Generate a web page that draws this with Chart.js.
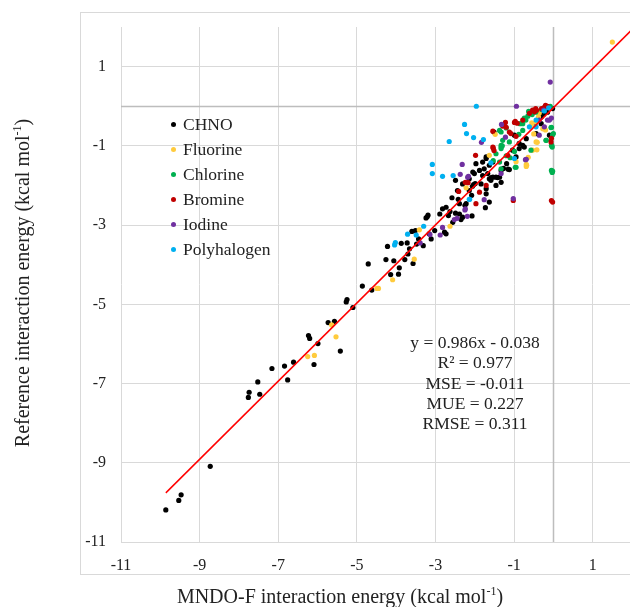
<!DOCTYPE html>
<html>
<head>
<meta charset="utf-8">
<script src="https://cdn.jsdelivr.net/npm/chart.js@4"></script>
<style>
  html, body { margin: 0; padding: 0; background: #fff; overflow: hidden; }
  #wrap { position: relative; width: 630px; height: 607px; overflow: hidden; font-family: 'Liberation Serif', 'Times New Roman', serif; color: #222; }
  #c { position: absolute; left: 0; top: 0; }
  .title { position: absolute; font-size: 20px; line-height: 24px; text-align: center; white-space: nowrap; }
  .title sup { font-size: 12px; line-height: 0; }
  #ytitle { left: -178px; top: 271px; width: 400px; height: 24px; transform: rotate(-90deg); }
  #xtitle { left: 90px; top: 584px; width: 500px; }
  #legend { position: absolute; left: 171px; top: 112px; font-size: 17.5px; }
  #legend div { height: 25px; line-height: 25px; white-space: nowrap; }
  #legend span.dot { display: inline-block; width: 5px; height: 5px; border-radius: 50%; margin-right: 7px; vertical-align: middle; position: relative; top: -1px; }
  #stats { position: absolute; left: 375px; top: 332px; width: 200px; text-align: center; font-size: 17.5px; line-height: 20.3px; white-space: nowrap; }
</style>
</head>
<body>
<div id="wrap">
  <canvas id="c" width="640" height="607"></canvas>
  <div class="title" id="ytitle">Reference interaction energy (kcal mol<sup>-1</sup>)</div>
  <div class="title" id="xtitle">MNDO-F interaction energy (kcal mol<sup>-1</sup>)</div>
  <div id="legend"></div>
  <div id="stats">y = 0.986x - 0.038<br>R² = 0.977<br>MSE = -0.011<br>MUE = 0.227<br>RMSE = 0.311</div>
</div>
<script>
const seriesNames = ['CHNO', 'Fluorine', 'Chlorine', 'Bromine', 'Iodine', 'Polyhalogen']
const seriesColors = ['#000000', '#FFCB3D', '#00B050', '#C00000', '#7030A0', '#00B0F0']

const chno = [
  [-9.86,-10.19],[-9.53,-9.95],[-9.47,-9.81],[-8.73,-9.09],
  [-7.76,-7.35],[-7.74,-7.22],[-7.47,-7.27],[-7.52,-6.96],[-7.16,-6.62],[-6.84,-6.56],[-6.76,-6.91],[-6.61,-6.46],
  [-6.23,-5.79],[-6.20,-5.86],[-5.99,-5.99],[-6.09,-6.52],[-5.42,-6.18],[-5.73,-5.46],[-5.57,-5.43],
  [-5.25,-4.88],[-5.27,-4.94],[-5.10,-5.08],[-4.86,-4.54],[-4.62,-4.64],[-4.71,-3.98],
  [-4.14,-4.25],[-3.94,-4.24],[-4.26,-3.87],[-4.06,-3.90],[-3.92,-4.08],[-4.22,-3.54],[-3.87,-3.46],[-3.78,-3.87],
  [-3.70,-3.73],[-3.57,-3.97],[-3.66,-3.60],[-3.72,-3.45],[-3.60,-3.16],[-3.51,-3.14],[-3.43,-3.35],[-3.48,-3.48],
  [-3.31,-3.52],[-3.24,-2.82],[-3.19,-2.75],[-3.21,-2.79],[-3.16,-3.22],[-3.11,-3.35],[-3.02,-3.14],[-2.82,-2.59],
  [-2.89,-2.72],[-2.77,-3.18],[-2.73,-3.22],[-2.67,-2.76],[-2.63,-2.66],[-2.56,-2.93],[-2.49,-2.70],[-2.39,-2.72],
  [-2.35,-2.86],[-2.31,-2.80],[-2.07,-2.77],[-2.22,-2.46],[-2.25,-2.50],[-2.42,-2.35],[-2.08,-2.25],[-2.03,-1.98],
  [-2.06,-2.02],[-1.99,-1.95],[-2.58,-2.31],[-2.44,-2.13],[-2.31,-1.96],[-2.14,-1.83],[-2.05,-1.66],[-1.97,-1.45],
  [-1.88,-1.62],[-1.80,-1.41],[-1.71,-1.32],[-1.63,-1.49],[-1.54,-1.41],[-1.37,-1.79],[-1.63,-1.83],[-1.84,-1.96],
  [-1.71,-2.08],[-1.46,-2.00],[-2.39,-2.46],[-2.73,-2.55],[-1.63,-2.42],[-2.14,-2.13],[-2.49,-1.87],[-1.73,-2.56],
  [-1.71,-2.21],[-2.01,-1.70],[-1.76,-1.58],[-1.80,-1.75],[-1.67,-1.70],[-1.46,-1.79],[-1.59,-1.87],[-1.33,-1.92],
  [-1.71,-1.28],[-1.19,-1.45],[-1.12,-1.60],[-1.33,-1.62],[-0.95,-1.28],[-1.54,-1.79],[-1.42,-1.80],[-1.58,-1.80],
  [-1.15,-1.59],[-1.27,-1.57],[-1.51,-0.65],[-1.04,-1.11],[-0.87,-0.94],[-0.74,-1.03],[-0.99,-0.73],[-0.87,-1.07],
  [-0.78,-0.99],[-0.69,-0.82],[-0.36,-0.30],[-0.31,-0.44],[-0.44,-0.69],[-0.10,-0.73],[-0.31,-0.27],[-0.02,-0.06],
  [-0.25,-0.20],[-0.15,-0.15],[-0.50,-0.45]
]
const fluorine = [
  [1.50,1.62],[-6.25,-6.32],[-6.08,-6.29],[-4.49,-4.60],[-5.64,-5.52],[-5.53,-5.82],[-4.45,-4.60],[-4.09,-4.38],
  [-3.54,-3.86],[-3.41,-3.12],[-2.63,-3.03],[-2.22,-2.06],[-1.48,-0.71],[-1.63,-1.24],[-0.23,-0.53],[-0.41,-0.91],
  [-0.53,-1.11],[-0.64,-1.29],[-0.69,-1.52],[-0.69,-1.47],[-0.54,-0.48],[-0.42,-1.10],[-0.68,-1.49],[-0.44,-0.90],
  [-0.27,-0.57],[-0.20,-0.60],[-0.44,-0.40],[-0.55,-0.42],[-0.36,-0.17],[-0.38,-0.27],[-0.95,-1.40],[-0.50,-0.70]
]
const chlorine = [
  [-0.74,-0.30],[-0.05,-0.53],[0.00,-0.69],[-0.05,-0.99],[-0.18,-0.86],[-0.05,-1.62],[-0.03,-1.67],[-0.97,-1.54],
  [-1.33,-0.65],[-1.20,-0.55],[-0.88,-0.71],[-0.78,-0.61],[-0.85,-0.44],[-0.06,-0.54],[-0.19,-0.86],[-0.04,-0.99],
  [-1.33,-1.03],[-1.30,-1.00],[-1.46,-1.20],[-1.53,-1.37],[-1.37,-1.41],[-0.95,-1.54],[-0.02,-1.64],[-0.54,-0.21],
  [-0.63,-0.13],[-0.08,0.00],[-0.78,-0.44],[-1.37,-0.61],[-1.33,-0.99],[-1.29,-0.86],[-1.12,-0.90],[-0.99,-1.14],
  [-0.57,-1.11],[-0.02,-0.72],[-0.03,-1.03],[-1.33,-1.07],[-1.33,-1.58],[-0.12,-0.03],[-0.70,-0.35],[-0.45,-0.15],
  [-0.30,-0.08],[-0.65,-0.25],[-1.10,-1.30],[-1.20,-1.25]
]
const bromine = [
  [-1.98,-1.24],[-1.20,-0.53],[-0.99,-0.41],[-0.92,-0.43],[-0.61,-0.18],[-0.43,-0.10],[-0.23,-0.03],[-0.05,-0.81],
  [-0.05,-2.38],[-0.02,-2.42],[-1.02,-2.38],[-1.08,-0.69],[-0.95,-0.76],[-1.54,-1.03],[-1.71,-2.00],[-1.97,-2.46],
  [-2.24,-1.92],[-2.41,-2.15],[-2.17,-1.93],[-0.97,-0.38],[-0.78,-0.35],[-0.48,-0.14],[-0.30,-0.06],[-1.22,-0.41],
  [-1.29,-0.50],[-1.54,-0.63],[-1.53,-1.06],[-1.51,-1.12],[-1.12,-0.65],[-0.06,-0.90],[-1.88,-2.17],[-1.16,-1.24],
  [-0.53,-0.10],[-0.45,-0.06],[-0.20,0.02],[-0.15,0.00]
]
const iodine = [
  [-0.08,0.61],[-0.94,0.00],[-1.83,-0.91],[-2.32,-1.47],[-2.37,-1.72],[-2.16,-1.77],[-1.32,-0.46],[-0.36,-0.73],
  [-0.69,-1.34],[-1.02,-2.33],[-1.22,-0.78],[-1.76,-2.36],[-2.18,-1.79],[-0.36,-0.35],[-0.15,-0.35],[-0.10,-0.35],
  [-0.23,-0.52],[-0.71,-1.35],[-1.33,-1.70],[-2.24,-2.59],[-3.39,-3.45],[-3.14,-3.24],[-2.88,-3.25],[-2.82,-3.06],
  [-2.52,-2.86],[-2.45,-2.83],[-2.25,-2.62],[-2.19,-2.78],[-0.05,-0.30],[-0.25,-0.10]
]
const polyhalogen = [
  [-1.96,0.00],[-2.26,-0.46],[-2.21,-0.69],[-2.03,-0.79],[-1.78,-0.84],[-2.65,-0.89],[-3.08,-1.47],[-3.08,-1.70],
  [-2.82,-1.77],[-2.55,-1.75],[-1.59,-1.43],[-0.99,-1.32],[-2.14,-2.35],[-4.02,-3.44],[-4.04,-3.50],[-3.71,-3.23],
  [-3.49,-3.25],[-3.30,-3.03],[-2.13,-2.35],[-0.12,-0.04],[-0.61,-0.52],[-0.44,-0.52],[-0.23,-0.12],[-0.44,-0.35]
]
const allSeries = [chno, fluorine, chlorine, bromine, iodine, polyhalogen]

// trendline from the fitted equation shown on the chart
const trendSlope = 0.986
const trendIntercept = -0.038
const trendX = [-9.86, 2]

const xTicks = [-11, -9, -7, -5, -3, -1, 1]
const yTicks = [1, -1, -3, -5, -7, -9, -11]

const legend = document.getElementById('legend')
seriesNames.forEach((name, i) => {
  const row = document.createElement('div')
  row.innerHTML = '<span class="dot" style="background:' + seriesColors[i] + '"></span>' + name
  legend.appendChild(row)
})

const datasets = allSeries.map((pts, i) => ({
  type: 'scatter',
  label: seriesNames[i],
  data: pts.map(p => ({ x: p[0], y: p[1] })),
  backgroundColor: seriesColors[i],
  borderWidth: 0,
  pointRadius: 2.6,
  pointHoverRadius: 2.6,
  order: 10 - i,
}))
datasets.push({
  type: 'line',
  label: 'Trend',
  data: trendX.map(x => ({ x: x, y: trendSlope * x + trendIntercept })),
  borderColor: '#FF0000',
  borderWidth: 1.5,
  pointRadius: 0,
  order: 0,
})

const frame = {
  id: 'frame',
  beforeDraw(chart) {
    const ctx = chart.ctx
    ctx.save()
    ctx.strokeStyle = '#d9d9d9'
    ctx.lineWidth = 1
    ctx.strokeRect(80.5, 12.5, 700, 562)
    ctx.restore()
  },
  beforeDatasetsDraw(chart) {
    const { ctx, chartArea, scales } = chart
    const x0 = Math.round(scales.x.getPixelForValue(0)) + 0.5
    const y0 = Math.round(scales.y.getPixelForValue(0)) + 0.5
    ctx.save()
    ctx.strokeStyle = '#bdbdbd'
    ctx.lineWidth = 1.5
    ctx.beginPath()
    ctx.moveTo(chartArea.left, y0)
    ctx.lineTo(chartArea.right, y0)
    ctx.moveTo(x0, chartArea.top)
    ctx.lineTo(x0, chartArea.bottom)
    ctx.stroke()
    ctx.restore()
  }
}

const tickFont = { family: 'Liberation Serif', size: 16 }

new Chart(document.getElementById('c'), {
  data: { datasets },
  options: {
    responsive: false,
    animation: false,
    layout: { padding: { top: 27, right: 8, left: 0, bottom: 0 } },
    plugins: { legend: { display: false }, tooltip: { enabled: false } },
    scales: {
      x: {
        type: 'linear',
        min: -11,
        max: 2,
        afterBuildTicks: s => { s.ticks = xTicks.map(v => ({ value: v })) },
        afterFit: s => { s.height = 65 },
        grid: { color: '#d9d9d9', drawTicks: false },
        border: { display: false },
        ticks: { color: '#222', font: tickFont, padding: 14, maxRotation: 0 },
      },
      y: {
        type: 'linear',
        min: -11,
        max: 2,
        afterBuildTicks: s => { s.ticks = yTicks.map(v => ({ value: v })) },
        afterFit: s => { s.width = 121 },
        grid: { color: '#d9d9d9', drawTicks: false },
        border: { display: false },
        ticks: { color: '#222', font: tickFont, padding: 15 },
      }
    }
  },
  plugins: [frame]
})
</script>
</body>
</html>
